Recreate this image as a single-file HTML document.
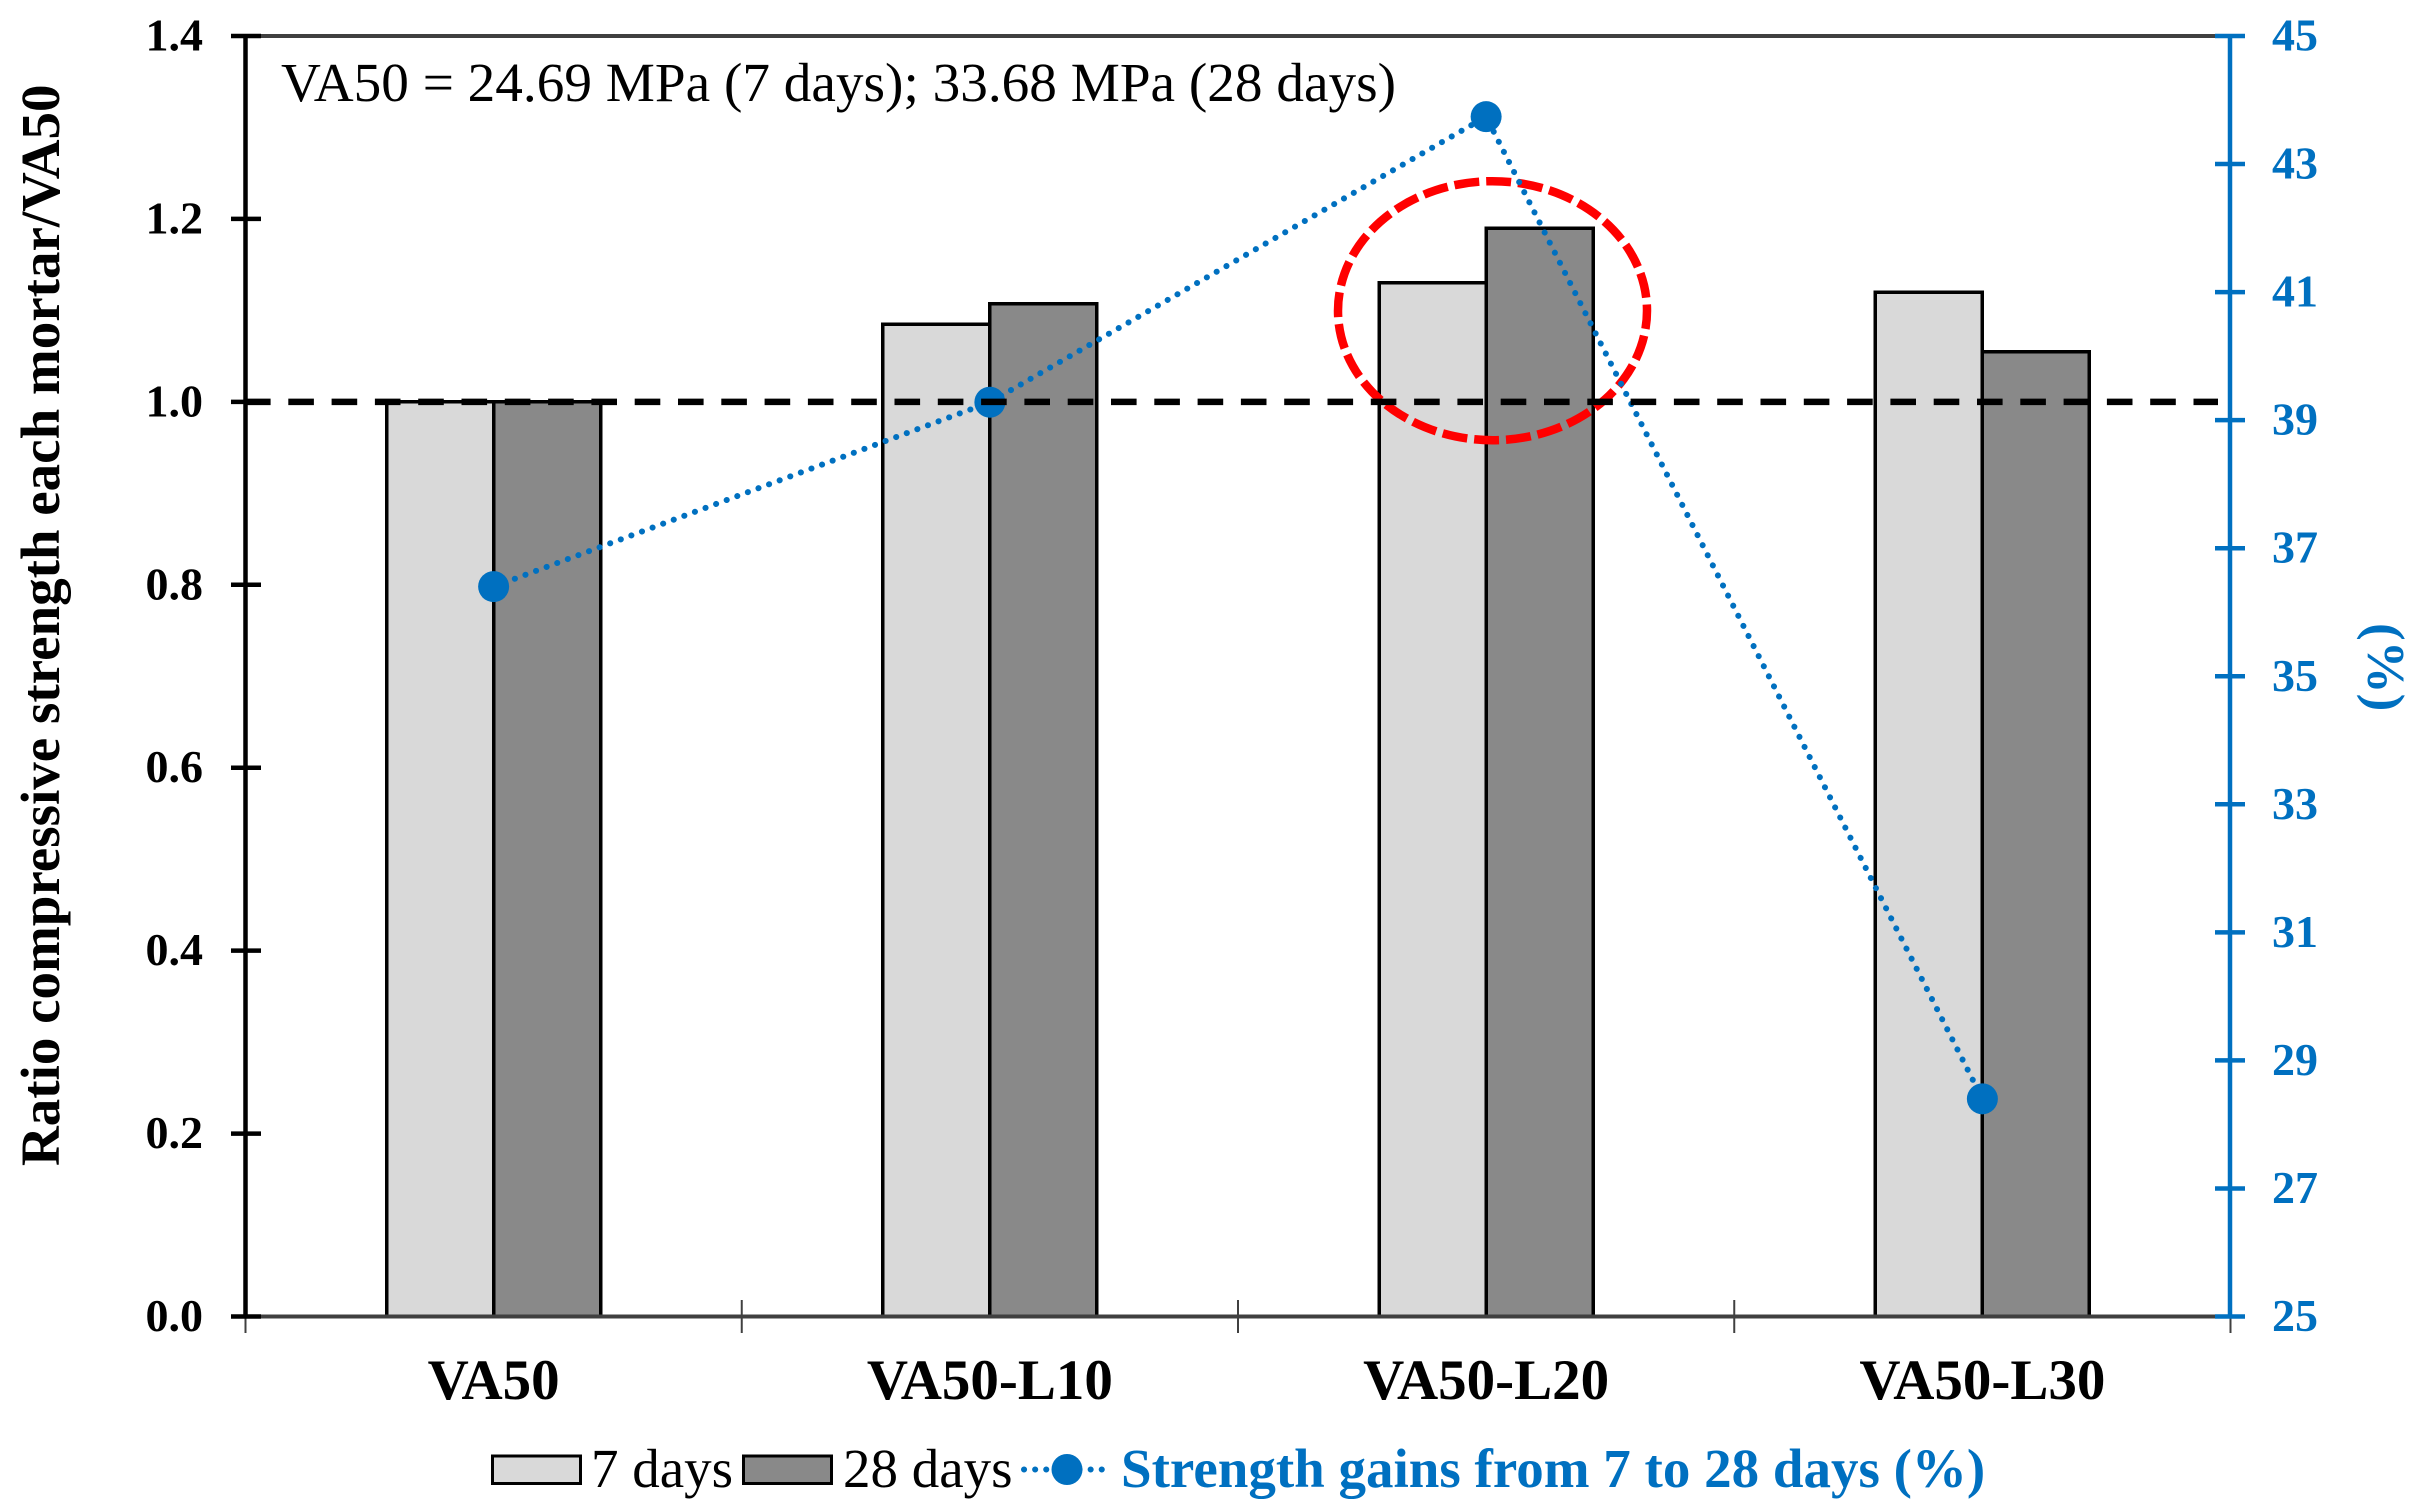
<!DOCTYPE html>
<html lang="en">
<head>
<meta charset="utf-8">
<title>Ratio compressive strength chart</title>
<style>
html,body{margin:0;padding:0;background:#fff;}
body{width:2425px;height:1511px;overflow:hidden;}
svg{display:block;}
text{font-family:"Liberation Serif","Times New Roman",serif;}
</style>
</head>
<body>
<svg id="chart" xmlns="http://www.w3.org/2000/svg" width="2425" height="1511" viewBox="0 0 2425 1511">
  <rect x="0" y="0" width="2425" height="1511" fill="#ffffff"/>
  <g id="bars" shape-rendering="crispEdges"></g>
  <ellipse cx="1492.5" cy="310.7" rx="154.5" ry="129.5" fill="none" stroke="#ff0000" stroke-width="8.5" stroke-dasharray="25 6.93" stroke-dashoffset="6.7"/>
  <g id="axes"></g>
  <g id="series"></g>
  <g id="reference"></g>
  <g id="labels"></g>
  <text x="281" y="101" font-size="55" textLength="1115" lengthAdjust="spacingAndGlyphs" fill="#000">VA50 = 24.69 MPa (7 days); 33.68 MPa (28 days)</text>
  <text transform="translate(59,1166) rotate(-90)" font-size="55" font-weight="bold" fill="#000">Ratio compressive strength each mortar/VA50</text>
  <text transform="translate(2368,623) rotate(90)" font-size="53" font-weight="bold" fill="#0070C0">(%)</text>
  <g>
    <rect x="492.5" y="1456" width="88" height="27.5" fill="#D9D9D9" stroke="#000" stroke-width="3"/>
    <text x="591" y="1487" font-size="55" fill="#000">7 days</text>
    <rect x="743.5" y="1456" width="88" height="27.5" fill="#898989" stroke="#000" stroke-width="3"/>
    <text x="843" y="1487" font-size="55" fill="#000">28 days</text>
    <line x1="1024" y1="1469.5" x2="1112" y2="1469.5" stroke="#0070C0" stroke-width="6" stroke-linecap="round" stroke-dasharray="0.1 11"/>
    <circle cx="1067" cy="1469.5" r="15.5" fill="#0070C0"/>
    <text x="1121" y="1487" font-size="55" font-weight="bold" fill="#0070C0">Strength gains from 7 to 28 days (%)</text>
  </g>
</svg>
<script>
const categories = ['VA50', 'VA50-L10', 'VA50-L20', 'VA50-L30'];
const sevenDayRatio = [1.0, 1.085, 1.13, 1.12];
const twentyEightDayRatio = [1.0, 1.107, 1.19, 1.055];
const strengthGain = [36.4, 39.28, 43.74, 28.4];
const leftTicks = [0.0, 0.2, 0.4, 0.6, 0.8, 1.0, 1.2, 1.4];
const rightTicks = [25, 27, 29, 31, 33, 35, 37, 39, 41, 43, 45];
const referenceValue = [1.0];

const NS = 'http://www.w3.org/2000/svg';
const plotLeft = 245.5, plotRight = 2230.5, plotTop = 36, plotBottom = 1316.5;
const leftMin = 0, leftMax = 1.4, rightMin = 25, rightMax = 45;
const barWidth = 107;
const blue = '#0070C0';

const categoryWidth = () => (plotRight - plotLeft) / categories.length;
const xCenter = i => plotLeft + categoryWidth() * (i + 0.5);
const yLeft = v => plotBottom - (v - leftMin) / (leftMax - leftMin) * (plotBottom - plotTop);
const yRight = v => plotBottom - (v - rightMin) / (rightMax - rightMin) * (plotBottom - plotTop);

function make(parent, tag, attrs, text) {
  const el = document.createElementNS(NS, tag);
  Object.keys(attrs).forEach(k => el.setAttribute(k, attrs[k]));
  if (text !== undefined) el.textContent = text;
  parent.appendChild(el);
  return el;
}

const barsG = document.getElementById('bars');
const axesG = document.getElementById('axes');
const seriesG = document.getElementById('series');
const refG = document.getElementById('reference');
const labelsG = document.getElementById('labels');

categories.forEach((cat, i) => {
  const top7 = yLeft(sevenDayRatio[i]);
  const bar7 = make(barsG, 'rect', {x: xCenter(i) - barWidth, y: top7, width: barWidth, height: plotBottom - top7, fill: '#D9D9D9', stroke: '#000', 'stroke-width': 3.5});
  
  
  const top28 = yLeft(twentyEightDayRatio[i]);
  const bar28 = make(barsG, 'rect', {x: xCenter(i), y: top28, width: barWidth, height: plotBottom - top28, fill: '#898989', stroke: '#000', 'stroke-width': 3.5});
  
  
  const label = make(labelsG, 'text', {x: xCenter(i), y: 1399, 'text-anchor': 'middle', 'font-size': 57, 'font-weight': 'bold', fill: '#000'}, cat);
  
  
});

const topBorder = make(axesG, 'line', {x1: plotLeft, y1: plotTop, x2: plotRight, y2: plotTop, stroke: '#404040', 'stroke-width': 4});



const xAxis = make(axesG, 'line', {x1: plotLeft, y1: plotBottom, x2: plotRight, y2: plotBottom, stroke: '#404040', 'stroke-width': 4});



for (let i = 0; i <= categories.length; i++) {
  const x = plotLeft + categoryWidth() * i;
  const tick = make(axesG, 'line', {x1: x, y1: 1300, x2: x, y2: 1333, stroke: '#404040', 'stroke-width': 2});
  
  
}

const yAxis = make(axesG, 'line', {x1: plotLeft, y1: plotTop - 2, x2: plotLeft, y2: plotBottom + 2, stroke: '#000', 'stroke-width': 4.5});



leftTicks.forEach(v => {
  const tick = make(axesG, 'line', {x1: 231, y1: yLeft(v), x2: 261, y2: yLeft(v), stroke: '#000', 'stroke-width': 4.5});
  
  
  const label = make(labelsG, 'text', {x: 203, y: yLeft(v) + 14.5, 'text-anchor': 'end', 'font-size': 46, 'font-weight': 'bold', fill: '#000'}, v.toFixed(1));
  
  
});

const rightAxis = make(axesG, 'line', {x1: plotRight - 0.5, y1: plotTop - 2, x2: plotRight - 0.5, y2: plotBottom, stroke: blue, 'stroke-width': 4.5});



rightTicks.forEach(v => {
  const tick = make(axesG, 'line', {x1: 2215, y1: yRight(v), x2: 2245, y2: yRight(v), stroke: blue, 'stroke-width': 4.5});
  
  
  const label = make(labelsG, 'text', {x: 2272, y: yRight(v) + 14.5, 'font-size': 46, 'font-weight': 'bold', fill: blue}, String(v));
  
  
});

const linePoints = strengthGain.map((v, i) => xCenter(i) + ',' + yRight(v)).join(' ');
const gainLine = make(seriesG, 'polyline', {points: linePoints, fill: 'none', stroke: blue, 'stroke-width': 6, 'stroke-linecap': 'round', 'stroke-dasharray': '0.1 11.2'});



strengthGain.forEach((v, i) => {
  const point = make(seriesG, 'circle', {cx: xCenter(i), cy: yRight(v), r: 15.5, fill: blue});
  
  
});

const refLine = make(refG, 'line', {x1: plotLeft - 0.5, y1: yLeft(referenceValue[0]), x2: 2218, y2: yLeft(referenceValue[0]), stroke: '#000', 'stroke-width': 6.5, 'stroke-dasharray': '25.6 17.7'});


</script>
</body>
</html>
